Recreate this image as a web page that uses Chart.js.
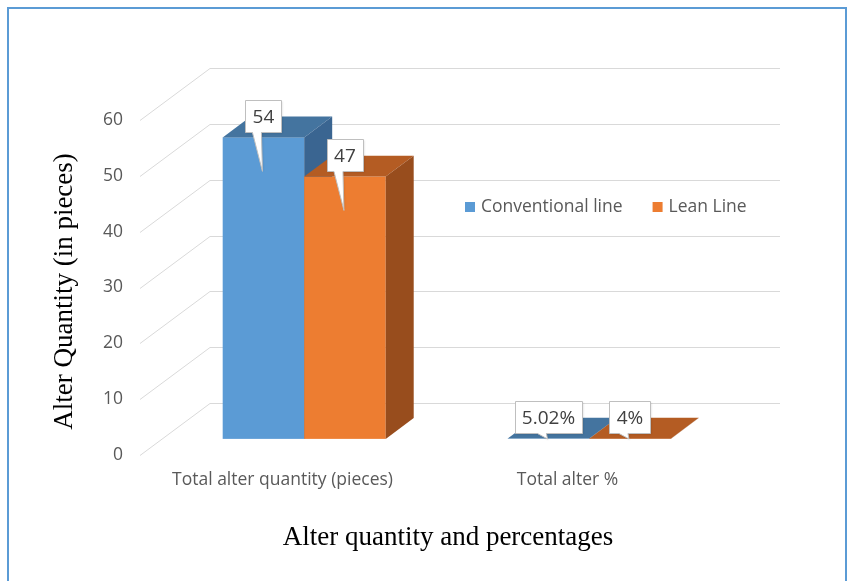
<!DOCTYPE html>
<html>
<head>
<meta charset="utf-8">
<title>Alter quantity and percentages</title>
<script src="https://cdn.jsdelivr.net/npm/chart.js@4.4.0/dist/chart.umd.min.js"></script>
<style>
  html, body { margin: 0; padding: 0; background: #fff; }
  canvas { display: block; }
</style>
</head>
<body>
<canvas id="alterChart" width="849" height="581"></canvas>
<script>
const categories = ['Total alter quantity (pieces)', 'Total alter %'];
const seriesNames = ['Conventional line', 'Lean Line'];
const conventionalLine = [54, 0.0502];
const leanLine = [47, 0.04];
const yTicks = [0, 10, 20, 30, 40, 50, 60];

const frontColors = ['#5b9bd5', '#ed7d31'];
const topColors = ['#44749f', '#b45c23'];
const sideColors = ['#3a6591', '#984d1d'];

// oblique projection: how far the back wall sits from the front plane
const WALL_DX = 70;
const WALL_DY = 52;
// bars live in the middle of the floor depth
const BAR_FRONT = 0.31;
const BAR_BACK = 0.71;

const TICK_FONT = '"Open Sans", "Noto Sans", sans-serif';
const SERIF = '"Liberation Serif", "DejaVu Serif", serif';

function fmtLabel(value, catIndex) {
  if (catIndex === 1) return +(value * 100).toFixed(2) + '%';
  return String(value);
}

function drawCallouts(chart) {
  const {ctx} = chart;
  const fx = BAR_FRONT * WALL_DX, fy = BAR_FRONT * WALL_DY;
  const dy = (BAR_BACK - BAR_FRONT) * WALL_DY;
  ctx.save();
  ctx.font = '19px ' + TICK_FONT;
  ctx.textAlign = 'center';
  ctx.textBaseline = 'middle';
  chart.data.datasets.forEach((ds, d) => {
    chart.getDatasetMeta(d).data.forEach((bar, i) => {
      const text = fmtLabel(ds.data[i], i);
      const cx = bar.x + fx;
      const top = bar.y - fy;
      const bot = bar.base - fy;
      const bw = Math.round(ctx.measureText(text).width + 14);
      const bh = 32;
      const bx = Math.round(cx - bw / 2) + 0.5;
      const by = Math.round(top - dy - 1 - bh / 2) + 0.5;
      const tipY = Math.min(top + 34, bot);
      ctx.beginPath();
      ctx.moveTo(bx, by);
      ctx.lineTo(bx + bw, by);
      ctx.lineTo(bx + bw, by + bh);
      ctx.lineTo(cx - 2, by + bh);
      ctx.lineTo(cx - 1, tipY);
      ctx.lineTo(cx - 11, by + bh);
      ctx.lineTo(bx, by + bh);
      ctx.closePath();
      ctx.shadowColor = 'rgba(0,0,0,0.12)';
      ctx.shadowOffsetX = 1;
      ctx.shadowOffsetY = 1;
      ctx.shadowBlur = 2;
      ctx.fillStyle = '#ffffff';
      ctx.fill();
      ctx.shadowColor = 'transparent';
      ctx.strokeStyle = '#bfbfbf';
      ctx.lineWidth = 1;
      ctx.stroke();
      ctx.fillStyle = '#404040';
      ctx.fillText(text, cx, by + bh / 2 + 1);
    });
  });
  ctx.restore();
}

const box3d = {
  id: 'box3d',
  beforeDatasetsDraw(chart) {
    const {ctx, chartArea, scales} = chart;
    const y = scales.y;
    ctx.save();
    ctx.strokeStyle = '#d9d9d9';
    ctx.lineWidth = 1;
    yTicks.forEach(t => {
      const py = Math.round(y.getPixelForValue(t)) + 0.5;
      ctx.beginPath();
      ctx.moveTo(chartArea.left, py);
      ctx.lineTo(chartArea.left + WALL_DX, py - WALL_DY);
      ctx.lineTo(chartArea.right + WALL_DX, py - WALL_DY);
      ctx.stroke();
    });

    const fx = BAR_FRONT * WALL_DX, fy = BAR_FRONT * WALL_DY;
    const dx = (BAR_BACK - BAR_FRONT) * WALL_DX, dy = (BAR_BACK - BAR_FRONT) * WALL_DY;
    const n = chart.data.labels.length;
    for (let i = 0; i < n; i++) {
      chart.data.datasets.forEach((ds, d) => {
        const bar = chart.getDatasetMeta(d).data[i];
        const l = bar.x - bar.width / 2 + fx;
        const r = bar.x + bar.width / 2 + fx;
        const top = bar.y - fy;
        const bot = bar.base - fy;
        ctx.fillStyle = frontColors[d];
        ctx.fillRect(l, top, r - l, bot - top);
        ctx.fillStyle = topColors[d];
        ctx.beginPath();
        ctx.moveTo(l, top);
        ctx.lineTo(l + dx, top - dy);
        ctx.lineTo(r + dx, top - dy);
        ctx.lineTo(r, top);
        ctx.closePath();
        ctx.fill();
        ctx.fillStyle = sideColors[d];
        ctx.beginPath();
        ctx.moveTo(r, top);
        ctx.lineTo(r + dx, top - dy);
        ctx.lineTo(r + dx, bot - dy);
        ctx.lineTo(r, bot);
        ctx.closePath();
        ctx.fill();
      });
    }
    ctx.restore();
    // the default flat bars are replaced by the boxes above
    return false;
  },
  afterDraw(chart) {
    const {ctx, chartArea} = chart;
    drawCallouts(chart);
    ctx.save();
    // legend
    ctx.font = '17.5px ' + TICK_FONT;
    ctx.textBaseline = 'middle';
    ctx.textAlign = 'left';
    let lx = 465;
    const ly = 207;
    chart.data.datasets.forEach((ds, d) => {
      ctx.fillStyle = frontColors[d];
      ctx.fillRect(lx, ly - 5, 10, 10);
      ctx.fillStyle = '#595959';
      ctx.fillText(ds.label, lx + 16, ly);
      lx += 16 + ctx.measureText(ds.label).width + 30;
    });
    // axis titles
    ctx.fillStyle = '#000000';
    ctx.font = '27px ' + SERIF;
    ctx.textAlign = 'center';
    ctx.fillText('Alter quantity and percentages', 448, 538);
    ctx.translate(65, (chartArea.top + chartArea.bottom) / 2 + 4);
    ctx.rotate(-Math.PI / 2);
    ctx.fillText('Alter Quantity (in pieces)', 0, 0);
    ctx.restore();
    // frame
    ctx.save();
    ctx.strokeStyle = '#5b9bd5';
    ctx.lineWidth = 2;
    ctx.strokeRect(8, 8, 838, 600);
    ctx.restore();
  }
};

new Chart(document.getElementById('alterChart'), {
  type: 'bar',
  data: {
    labels: categories,
    datasets: [
      {label: seriesNames[0], data: conventionalLine, backgroundColor: frontColors[0]},
      {label: seriesNames[1], data: leanLine, backgroundColor: frontColors[1]}
    ]
  },
  options: {
    responsive: false,
    animation: false,
    barPercentage: 1,
    categoryPercentage: 0.572,
    layout: {padding: {top: 120, right: 139, left: 0, bottom: 0}},
    plugins: {legend: {display: false}, tooltip: {enabled: false}},
    scales: {
      x: {
        grid: {display: false, drawTicks: false},
        border: {display: false},
        ticks: {color: '#595959', font: {size: 17.5, family: TICK_FONT}, padding: 15, maxRotation: 0},
        afterFit(scale) { scale.height = 126; }
      },
      y: {
        min: 0,
        max: 60,
        grid: {display: false, drawTicks: false},
        border: {display: false},
        ticks: {stepSize: 10, color: '#595959', font: {size: 17.5, family: TICK_FONT}, padding: 17},
        afterFit(scale) { scale.width = 140; }
      }
    }
  },
  plugins: [box3d]
});
</script>
</body>
</html>
